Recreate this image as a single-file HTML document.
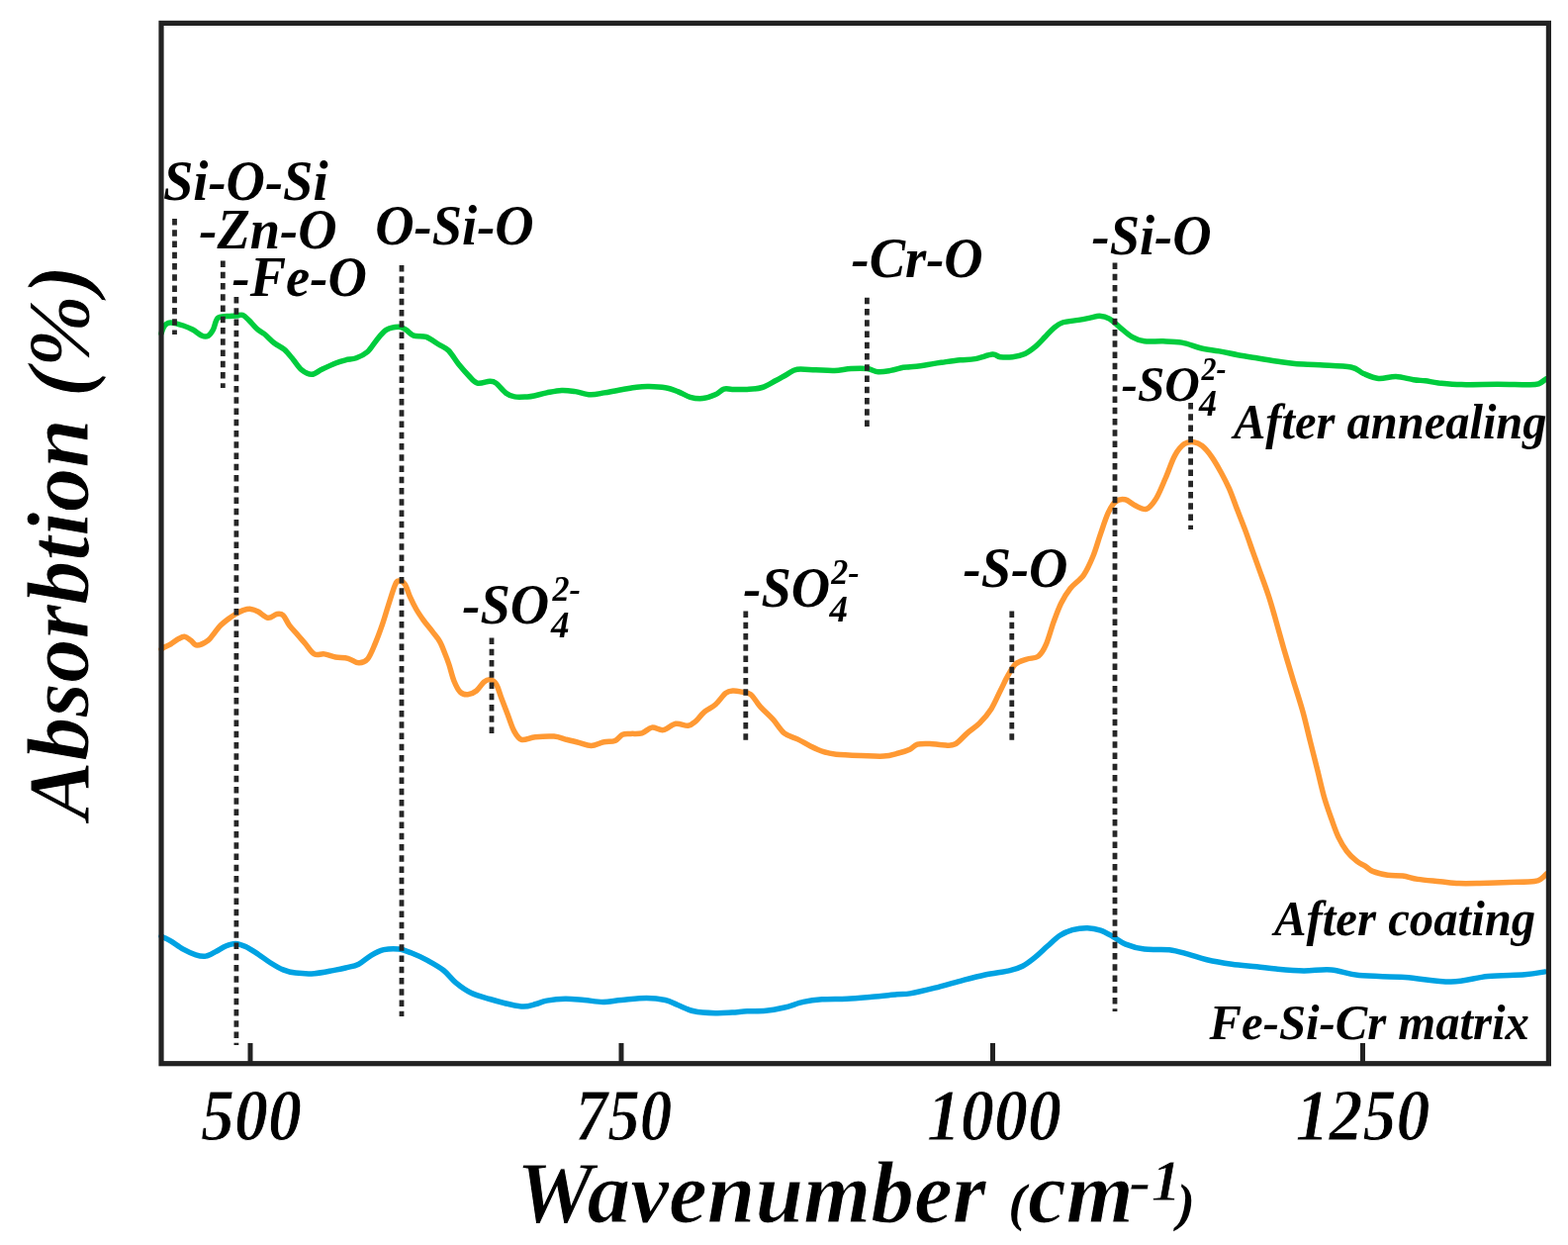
<!DOCTYPE html><html><head><meta charset="utf-8"><style>html,body{margin:0;padding:0;background:#fff;}svg{display:block;}</style></head><body>
<svg width="1585" height="1258" viewBox="0 0 1585 1258">
<rect width="1585" height="1258" fill="#fff"/>
<g fill="none" stroke-width="5.5" stroke-linejoin="round" stroke-linecap="round">
<path stroke="#00cc3d" d="M163.0,337.0 C163.3,336.1 164.2,333.1 165.0,331.5 C165.8,329.9 166.7,328.4 168.0,327.5 C169.3,326.6 169.7,325.8 172.6,326.0 C175.5,326.2 181.5,327.8 185.2,329.0 C188.9,330.2 191.5,331.3 194.7,333.0 C197.9,334.7 201.6,338.2 204.2,339.3 C206.8,340.4 208.6,340.4 210.5,339.3 C212.4,338.2 213.9,336.0 215.5,333.0 C217.1,330.0 217.7,323.7 220.0,321.5 C222.3,319.3 226.2,320.0 229.4,319.6 C232.6,319.2 236.3,319.2 238.9,319.0 C241.5,318.8 243.1,317.6 245.2,318.3 C247.3,319.1 249.0,321.1 251.5,323.5 C254.0,325.9 257.4,330.2 260.0,332.5 C262.6,334.8 264.4,335.1 267.3,337.5 C270.2,339.9 274.0,344.2 277.4,346.8 C280.8,349.4 284.2,350.4 287.4,353.1 C290.5,355.8 293.4,359.7 296.3,363.2 C299.2,366.7 302.0,371.4 305.1,373.9 C308.2,376.4 311.8,378.4 315.2,378.3 C318.6,378.2 321.3,375.2 325.3,373.3 C329.3,371.4 335.2,368.6 339.2,367.0 C343.2,365.4 345.8,364.7 349.3,363.8 C352.8,362.9 356.4,363.2 360.1,361.8 C363.8,360.4 368.1,358.4 371.5,355.5 C374.9,352.6 377.2,347.9 380.3,344.2 C383.4,340.5 386.6,335.7 390.4,333.4 C394.2,331.1 399.6,330.3 403.0,330.3 C406.4,330.3 408.1,331.9 410.6,333.4 C413.1,334.9 414.7,337.9 418.1,339.1 C421.5,340.3 426.6,338.9 430.8,340.4 C435.0,341.9 439.6,345.7 443.4,348.0 C447.2,350.3 450.1,350.9 453.5,354.3 C456.9,357.7 460.2,363.9 463.6,368.1 C467.0,372.3 470.6,376.3 473.7,379.5 C476.8,382.7 478.9,386.2 482.5,387.1 C486.1,388.1 492.0,385.2 495.1,385.2 C498.2,385.2 498.7,385.1 501.4,387.1 C504.1,389.1 508.4,394.9 511.5,397.2 C514.6,399.5 516.7,400.3 520.3,400.9 C523.9,401.5 529.7,401.0 533.0,400.9 C536.3,400.8 536.7,400.7 540.0,400.0 C543.3,399.3 548.0,397.8 552.6,396.9 C557.2,396.0 563.0,394.6 567.8,394.4 C572.6,394.2 576.8,394.9 581.6,395.6 C586.4,396.3 591.9,398.6 596.8,398.8 C601.6,399.0 605.5,397.8 610.7,396.9 C616.0,396.0 622.8,394.6 628.3,393.7 C633.8,392.8 638.9,391.7 643.5,391.2 C648.1,390.7 651.3,390.5 656.1,390.6 C660.9,390.7 667.7,391.0 672.5,391.8 C677.3,392.6 680.9,394.0 685.1,395.6 C689.3,397.2 693.5,400.1 697.7,401.3 C701.9,402.5 706.1,403.0 710.3,402.6 C714.5,402.2 719.4,400.4 723.0,398.8 C726.6,397.2 728.9,394.0 731.8,393.1 C734.6,392.2 736.2,393.3 740.1,393.4 C744.0,393.4 750.2,393.7 755.2,393.4 C760.2,393.1 765.5,393.0 770.4,391.5 C775.2,390.0 780.1,386.7 784.3,384.5 C788.5,382.3 792.0,380.1 795.6,378.2 C799.2,376.3 800.9,373.9 805.7,373.2 C810.5,372.5 818.3,373.6 824.6,373.8 C830.9,374.0 837.7,374.6 843.6,374.4 C849.5,374.2 854.5,372.9 860.0,372.6 C865.5,372.3 871.8,372.1 876.4,372.6 C881.0,373.1 883.7,375.4 887.7,375.7 C891.7,376.0 896.1,375.1 900.3,374.4 C904.5,373.7 909.7,371.9 913.0,371.3 C916.3,370.7 916.3,371.2 920.0,370.8 C923.7,370.4 929.9,369.6 935.1,368.9 C940.4,368.1 945.6,367.1 951.5,366.3 C957.4,365.5 964.8,364.4 970.5,363.8 C976.2,363.2 980.1,363.6 985.6,362.6 C991.1,361.7 999.1,358.4 1003.3,358.1 C1007.5,357.8 1007.5,360.3 1010.9,360.7 C1014.3,361.1 1019.3,361.2 1023.5,360.7 C1027.7,360.2 1032.3,359.2 1036.1,357.5 C1039.9,355.8 1042.8,353.4 1046.2,350.6 C1049.6,347.8 1053.2,343.7 1056.3,340.5 C1059.4,337.3 1062.2,334.0 1065.1,331.6 C1068.0,329.2 1069.7,327.4 1073.9,326.0 C1078.1,324.6 1085.5,324.2 1090.3,323.4 C1095.1,322.5 1099.5,321.6 1103.0,320.9 C1106.5,320.2 1108.5,319.1 1111.6,319.3 C1114.7,319.5 1118.2,320.3 1121.5,322.1 C1124.8,323.9 1127.7,327.2 1131.5,330.3 C1135.3,333.4 1140.0,338.0 1144.2,340.4 C1148.4,342.8 1151.5,344.1 1156.8,344.8 C1162.0,345.5 1169.4,344.6 1175.7,344.8 C1182.0,345.0 1188.3,345.0 1194.6,346.1 C1200.9,347.2 1207.3,350.2 1213.6,351.7 C1219.9,353.2 1226.2,353.7 1232.5,354.9 C1238.8,356.1 1245.1,357.5 1251.4,358.7 C1257.7,359.9 1263.9,360.8 1270.3,361.8 C1276.7,362.9 1283.6,364.1 1290.0,365.0 C1296.4,365.9 1301.5,366.9 1308.9,367.5 C1316.3,368.1 1324.7,368.2 1334.2,368.8 C1343.7,369.4 1358.4,369.6 1365.7,371.0 C1373.0,372.4 1373.7,375.6 1378.3,377.5 C1382.9,379.4 1388.0,381.9 1393.5,382.4 C1399.0,382.9 1405.2,380.3 1411.1,380.5 C1417.0,380.7 1423.8,383.0 1428.8,383.7 C1433.8,384.4 1436.6,384.3 1440.8,384.8 C1445.0,385.3 1447.9,386.3 1454.0,386.9 C1460.1,387.5 1467.3,388.4 1477.3,388.6 C1487.2,388.8 1502.4,388.3 1513.7,388.3 C1525.0,388.3 1538.0,388.9 1544.9,388.8 C1551.8,388.7 1552.3,388.8 1555.3,387.8 C1558.2,386.8 1561.4,383.8 1562.6,383.0"/>
<path stroke="#ff9933" d="M163.0,656.0 C163.3,655.8 163.4,655.4 165.0,654.5 C166.6,653.6 170.1,652.3 172.6,650.8 C175.1,649.3 177.9,647.0 180.2,645.7 C182.5,644.4 184.4,643.0 186.5,643.2 C188.6,643.4 190.7,645.5 192.8,647.0 C194.9,648.5 196.2,652.0 199.1,652.0 C202.0,652.0 207.6,649.1 210.5,647.0 C213.4,644.9 214.7,641.9 216.8,639.4 C218.9,636.9 220.8,634.1 223.1,631.8 C225.4,629.5 228.2,627.4 230.7,625.5 C233.2,623.6 235.7,622.0 238.2,620.5 C240.7,619.0 243.3,617.6 245.8,616.7 C248.3,615.9 250.9,615.2 253.4,615.4 C255.9,615.6 258.0,616.5 260.9,618.0 C263.8,619.5 267.8,623.9 271.0,624.3 C274.2,624.7 277.4,620.9 279.9,620.5 C282.4,620.1 284.1,619.8 286.2,621.7 C288.3,623.6 290.0,628.4 292.5,631.8 C295.0,635.2 298.6,638.7 301.3,641.9 C304.0,645.1 306.2,647.6 308.9,650.8 C311.6,654.0 314.5,659.2 317.7,660.9 C320.9,662.6 324.2,660.4 327.8,660.9 C331.4,661.4 335.2,663.3 339.2,664.0 C343.2,664.7 347.9,664.3 351.8,665.3 C355.7,666.3 359.3,669.7 362.6,669.8 C365.9,669.9 368.8,669.1 371.5,666.0 C374.2,662.9 376.5,656.8 379.0,650.9 C381.5,645.0 384.3,637.4 386.6,630.7 C388.9,624.0 390.8,617.0 392.9,610.5 C395.0,604.0 397.5,595.4 399.2,591.5 C400.9,587.6 401.3,587.3 403.0,587.1 C404.7,586.9 407.4,587.7 409.3,590.3 C411.2,592.9 412.5,598.7 414.4,602.9 C416.3,607.1 418.4,611.5 420.7,615.5 C423.0,619.5 425.5,623.1 428.2,626.9 C430.9,630.7 434.4,634.6 437.1,638.2 C439.8,641.8 442.5,644.5 444.6,648.3 C446.8,652.1 448.4,657.1 450.0,661.0 C451.6,664.9 452.4,667.0 453.9,671.5 C455.4,676.0 457.0,683.4 458.9,688.0 C460.8,692.6 462.9,697.0 465.2,699.3 C467.5,701.6 470.1,702.0 472.8,701.8 C475.5,701.6 478.9,700.1 481.6,698.0 C484.3,695.9 486.9,691.1 489.2,689.2 C491.5,687.3 493.4,686.3 495.5,686.7 C497.6,687.1 499.9,688.6 501.8,691.7 C503.7,694.9 505.0,700.6 506.9,705.6 C508.8,710.6 511.1,716.5 513.2,722.0 C515.3,727.5 517.2,734.2 519.5,738.4 C521.8,742.6 523.5,746.2 527.1,747.3 C530.7,748.3 535.5,745.2 541.0,744.7 C546.5,744.2 554.6,743.7 559.9,744.1 C565.1,744.5 568.3,746.2 572.5,747.3 C576.7,748.3 580.9,749.3 585.1,750.4 C589.3,751.5 593.5,753.7 597.7,753.6 C601.9,753.5 606.3,750.6 610.3,749.8 C614.3,748.9 618.5,749.8 621.7,748.5 C624.9,747.2 626.6,743.4 629.3,742.2 C631.9,741.0 634.3,741.6 637.6,741.4 C640.9,741.2 645.3,741.8 648.9,740.8 C652.5,739.8 655.4,735.6 659.0,735.1 C662.6,734.6 666.4,738.2 670.4,737.6 C674.4,737.0 678.8,732.0 683.0,731.3 C687.2,730.6 692.2,733.6 695.6,733.2 C699.0,732.8 700.5,731.1 703.2,728.8 C705.9,726.5 708.6,722.1 712.0,719.3 C715.4,716.4 719.8,714.9 723.4,711.7 C727.0,708.6 730.6,702.7 733.5,700.4 C736.4,698.1 738.3,698.1 741.0,697.9 C743.7,697.7 746.9,698.5 749.9,699.1 C752.9,699.7 755.6,699.1 758.7,701.6 C761.9,704.1 765.0,710.1 768.8,714.3 C772.6,718.5 777.4,722.5 781.4,726.9 C785.4,731.3 788.6,737.4 792.8,740.8 C797.0,744.2 802.3,744.9 806.7,747.1 C811.1,749.3 815.0,751.9 819.3,754.0 C823.6,756.1 828.3,758.3 832.6,759.7 C836.9,761.1 838.9,761.6 845.2,762.2 C851.5,762.8 862.5,763.2 870.5,763.5 C878.5,763.8 886.9,764.5 893.2,764.1 C899.5,763.7 903.9,762.1 908.3,761.0 C912.7,759.9 916.5,758.7 919.7,757.2 C922.9,755.7 923.9,753.1 927.3,752.1 C930.7,751.1 935.7,751.4 939.9,751.5 C944.1,751.6 948.3,752.6 952.5,752.7 C956.7,752.8 960.9,754.1 965.1,752.1 C969.3,750.1 973.5,744.4 977.7,740.8 C981.9,737.2 986.3,734.8 990.3,730.7 C994.3,726.7 998.4,722.0 1001.9,716.5 C1005.4,711.0 1008.5,703.2 1011.4,697.5 C1014.3,691.8 1016.5,686.7 1019.1,682.2 C1021.7,677.8 1023.5,673.5 1026.7,670.8 C1029.9,668.1 1034.4,667.3 1038.2,666.0 C1042.0,664.7 1046.4,665.5 1049.6,663.1 C1052.8,660.7 1054.7,657.4 1057.2,651.7 C1059.8,646.0 1062.4,635.8 1064.9,628.8 C1067.5,621.8 1069.7,615.4 1072.5,609.7 C1075.3,604.0 1078.2,599.3 1082.0,594.5 C1085.8,589.7 1091.6,586.5 1095.4,581.1 C1099.2,575.7 1102.0,569.0 1104.9,562.0 C1107.8,555.0 1110.0,546.4 1112.6,539.1 C1115.1,531.8 1117.7,523.6 1120.2,518.2 C1122.7,512.8 1124.9,508.9 1127.8,506.7 C1130.7,504.5 1134.2,504.2 1137.4,504.8 C1140.6,505.4 1143.5,508.9 1147.0,510.5 C1150.5,512.1 1155.1,515.5 1158.7,514.4 C1162.3,513.3 1165.3,509.1 1168.6,503.9 C1171.8,498.7 1175.0,490.3 1178.2,483.0 C1181.4,475.7 1184.5,465.8 1187.7,460.1 C1190.9,454.4 1194.0,450.8 1197.2,448.6 C1200.4,446.4 1203.8,446.4 1206.8,446.7 C1209.8,447.0 1212.4,448.2 1215.4,450.7 C1218.4,453.2 1221.8,457.3 1225.0,461.8 C1228.2,466.3 1231.6,472.4 1234.5,477.7 C1237.4,483.0 1239.8,487.5 1242.5,493.6 C1245.2,499.7 1247.8,507.4 1250.4,514.3 C1253.1,521.2 1255.8,527.8 1258.4,534.9 C1261.1,542.0 1263.7,549.8 1266.3,557.2 C1268.9,564.6 1271.6,572.0 1274.3,579.4 C1277.0,586.8 1279.8,594.4 1282.2,601.7 C1284.6,609.0 1286.0,614.0 1288.6,623.0 C1291.2,632.0 1294.6,644.7 1297.7,655.4 C1300.8,666.1 1304.0,676.4 1307.2,687.2 C1310.5,698.0 1314.4,709.8 1317.2,720.0 C1320.0,730.2 1321.9,739.1 1324.3,748.6 C1326.7,758.1 1329.1,767.7 1331.5,777.2 C1333.9,786.7 1336.2,797.4 1338.6,805.8 C1341.0,814.1 1343.4,820.6 1345.8,827.3 C1348.2,834.0 1350.3,840.4 1352.9,845.9 C1355.5,851.4 1358.4,856.2 1361.5,860.2 C1364.6,864.2 1368.4,867.7 1371.5,870.2 C1374.6,872.7 1377.3,873.4 1380.0,875.1 C1382.7,876.8 1383.8,878.9 1387.6,880.4 C1391.4,881.9 1397.7,883.4 1402.7,884.2 C1407.8,885.0 1412.9,884.3 1417.9,885.0 C1423.0,885.7 1426.7,887.4 1433.0,888.4 C1439.3,889.4 1448.8,890.0 1455.7,890.7 C1462.6,891.4 1467.9,892.3 1474.6,892.6 C1481.3,892.9 1487.1,892.7 1495.7,892.5 C1504.3,892.3 1516.8,891.8 1526.0,891.5 C1535.2,891.2 1545.8,891.2 1551.2,890.5 C1556.6,889.8 1556.5,888.8 1558.5,887.5 C1560.5,886.2 1562.5,883.8 1563.3,883.0"/>
<path stroke="#00a2e2" d="M163.0,946.0 C163.3,946.2 163.4,946.3 165.0,947.1 C166.6,947.9 169.2,948.9 172.6,950.9 C176.0,952.9 181.0,956.8 185.2,959.1 C189.4,961.4 194.1,963.6 197.9,964.8 C201.7,966.0 204.7,966.6 208.0,966.1 C211.3,965.6 214.7,963.3 218.0,961.6 C221.3,959.9 224.7,957.4 228.1,956.0 C231.5,954.6 234.8,953.3 238.2,953.4 C241.6,953.5 244.5,954.8 248.3,956.6 C252.1,958.4 256.8,961.5 261.0,964.2 C265.2,966.9 269.4,970.4 273.6,973.0 C277.8,975.6 282.0,978.2 286.2,979.9 C290.4,981.6 293.6,982.5 298.8,983.1 C304.1,983.7 311.4,984.1 317.7,983.7 C324.0,983.3 331.4,981.6 336.7,980.6 C342.0,979.6 345.0,979.1 349.3,978.0 C353.6,976.9 358.3,976.3 362.6,974.2 C366.9,972.1 371.0,967.7 375.2,965.3 C379.4,962.9 383.3,960.8 387.9,959.7 C392.5,958.7 398.4,958.5 403.0,959.0 C407.6,959.5 410.8,960.9 415.6,962.8 C420.4,964.7 426.5,967.4 432.0,970.4 C437.5,973.4 443.6,976.7 448.4,980.5 C453.2,984.3 456.4,989.3 461.0,993.1 C465.6,996.9 470.5,1000.5 476.2,1003.2 C481.9,1005.9 488.8,1007.6 495.1,1009.5 C501.4,1011.4 508.3,1013.2 514.0,1014.5 C519.7,1015.8 524.6,1017.1 529.2,1017.1 C533.8,1017.1 537.9,1015.5 541.8,1014.5 C545.7,1013.5 547.6,1012.0 552.6,1011.1 C557.6,1010.2 565.2,1009.3 571.5,1009.2 C577.8,1009.1 584.2,1010.0 590.5,1010.5 C596.8,1011.0 603.1,1012.4 609.4,1012.4 C615.7,1012.4 620.9,1011.1 628.3,1010.5 C635.7,1009.9 646.2,1008.6 653.6,1008.6 C661.0,1008.6 667.2,1009.4 672.5,1010.5 C677.8,1011.6 680.3,1013.6 685.1,1015.5 C689.9,1017.4 695.2,1020.4 701.5,1021.8 C707.8,1023.2 716.6,1023.5 723.0,1023.7 C729.4,1023.9 734.6,1023.4 740.0,1023.1 C745.4,1022.8 749.5,1022.1 755.2,1021.8 C760.9,1021.5 767.9,1021.8 774.2,1021.2 C780.5,1020.6 786.8,1019.5 793.1,1018.0 C799.4,1016.5 805.7,1013.8 812.0,1012.4 C818.3,1011.0 823.5,1010.3 830.9,1009.8 C838.3,1009.3 847.8,1009.6 856.2,1009.2 C864.6,1008.8 873.0,1008.0 881.4,1007.3 C889.8,1006.6 900.3,1005.4 906.7,1004.8 C913.1,1004.2 913.6,1005.0 920.0,1003.9 C926.4,1002.8 936.8,1000.3 945.2,998.2 C953.6,996.1 962.1,993.5 970.5,991.3 C978.9,989.1 987.3,986.8 995.7,985.0 C1004.1,983.2 1014.6,982.1 1020.9,980.6 C1027.2,979.1 1029.4,978.4 1033.6,976.2 C1037.8,974.0 1042.0,970.7 1046.2,967.3 C1050.4,963.9 1054.6,959.7 1058.8,956.0 C1063.0,952.3 1067.2,947.9 1071.4,945.2 C1075.6,942.5 1079.4,940.9 1084.0,939.6 C1088.6,938.4 1094.4,937.6 1099.2,937.7 C1104.0,937.8 1108.3,938.7 1112.6,940.2 C1116.9,941.7 1121.0,944.2 1125.2,946.5 C1129.4,948.8 1132.6,952.0 1137.9,954.1 C1143.2,956.2 1149.5,958.2 1156.8,959.1 C1164.1,960.0 1174.7,958.9 1182.0,959.7 C1189.3,960.6 1194.6,962.5 1200.9,964.2 C1207.2,965.9 1212.5,968.1 1219.9,969.8 C1227.3,971.5 1236.7,973.1 1245.1,974.3 C1253.5,975.5 1262.8,976.0 1270.3,976.8 C1277.8,977.6 1282.1,978.4 1290.0,979.1 C1297.9,979.8 1308.6,980.8 1317.9,980.9 C1327.2,981.0 1336.5,979.2 1345.8,980.0 C1355.1,980.8 1361.4,984.4 1373.8,985.6 C1386.2,986.9 1404.8,986.4 1420.3,987.5 C1435.8,988.6 1452.8,992.3 1466.8,992.1 C1480.8,991.9 1491.6,987.7 1504.0,986.5 C1516.4,985.3 1531.7,985.5 1541.3,984.7 C1550.9,983.9 1558.3,982.4 1561.7,981.9"/>
</g>
<g stroke="#262626" stroke-width="4.8" stroke-dasharray="6.5 4.75">
<line x1="176.5" y1="221" x2="176.5" y2="338"/>
<line x1="225.3" y1="263.6" x2="225.3" y2="392"/>
<line x1="238.9" y1="300" x2="238.9" y2="1056"/>
<line x1="406.0" y1="268" x2="406.0" y2="1027"/>
<line x1="876.4" y1="300.7" x2="876.4" y2="431"/>
<line x1="1127.0" y1="265.6" x2="1127.0" y2="1022"/>
<line x1="1203.6" y1="407" x2="1203.6" y2="535"/>
<line x1="497.0" y1="644.5" x2="497.0" y2="744"/>
<line x1="753.8" y1="617.4" x2="753.8" y2="749"/>
<line x1="1022.8" y1="617.6" x2="1022.8" y2="749"/>
</g>
<rect x="163" y="23.4" width="1402.4" height="1051.3" fill="none" stroke="#222" stroke-width="5.2"/>
<g stroke="#222" stroke-width="5">
<line x1="253" y1="1054" x2="253" y2="1074"/>
<line x1="628" y1="1054" x2="628" y2="1074"/>
<line x1="1003.5" y1="1054" x2="1003.5" y2="1074"/>
<line x1="1377.5" y1="1054" x2="1377.5" y2="1074"/>
</g>
<g font-family="Liberation Serif, Times New Roman, serif" font-weight="bold" font-style="italic" fill="#000">
<text transform="translate(165.0,202.2) scale(1.0,1.04)" font-size="54.5">Si-O-Si</text>
<text transform="translate(201.3,250.7) scale(1.0,1.04)" font-size="54.5">-Zn-O</text>
<text transform="translate(234.6,299.2) scale(1.0,1.04)" font-size="54.5">-Fe-O</text>
<text transform="translate(379.2,247.2) scale(1.0,1.04)" font-size="54.5">O-Si-O</text>
<text transform="translate(860.5,279.5) scale(1.0,1.04)" font-size="54.5">-Cr-O</text>
<text transform="translate(1103.5,256.5) scale(1.0,1.04)" font-size="54.5">-Si-O</text>
<text transform="translate(973.5,593.4) scale(1.0,1.04)" font-size="54.5">-S-O</text>
<text transform="translate(467.3,629.5) scale(1.0,1.04)" font-size="54.5">-SO</text>
<text transform="translate(558.4,606.5) scale(1.0,1.07)" font-size="34">2-</text>
<text transform="translate(556.9,643.6) scale(1.0,1.04)" font-size="37">4</text>
<text transform="translate(751.3,613.0) scale(1.0,1.04)" font-size="54.5">-SO</text>
<text transform="translate(840.2,590.0) scale(1.0,1.07)" font-size="34">2-</text>
<text transform="translate(838.6,628.0) scale(1.0,1.04)" font-size="37">4</text>
<text transform="translate(1133.5,405.4) scale(1.0,1.04)" font-size="49.2">-SO</text>
<text transform="translate(1214.6,384.2) scale(1.0,1.1)" font-size="30">2-</text>
<text transform="translate(1211.9,419.8) scale(1.0,1.04)" font-size="36">4</text>
<text transform="translate(1247.0,442.6) scale(1.0,1.04)" font-size="48.5">After annealing</text>
<text transform="translate(1288.0,944.7) scale(1.0,1.04)" font-size="48.8">After coating</text>
<text transform="translate(1222.6,1049.7) scale(1.0,1.04)" font-size="48.7">Fe-Si-Cr matrix</text>
<text transform="translate(203.0,1151.6) scale(1.0,1.09)" font-size="68" stroke="#fff" stroke-width="0.8">500</text>
<text transform="translate(581.5,1151.6) scale(0.96,1.09)" font-size="68" stroke="#fff" stroke-width="0.8">750</text>
<text transform="translate(937.0,1151.6) scale(1.0,1.09)" font-size="68" stroke="#fff" stroke-width="0.8">1000</text>
<text transform="translate(1309.6,1151.6) scale(1.0,1.09)" font-size="68" stroke="#fff" stroke-width="0.8">1250</text>
<text transform="translate(522.1,1235.3) scale(1.0,1.025)" font-size="87.5" stroke="#fff" stroke-width="1.0">Wavenumber</text>
<text x="1019.4" y="1233.4" font-size="53">(</text>
<text transform="translate(1038.9,1235.3) scale(1.0,1.025)" font-size="87.5" stroke="#fff" stroke-width="1.0">cm</text>
<text x="1190.0" y="1233.4" font-size="53">)</text>
<text transform="translate(1141.3,1212.7) scale(1.12,1.0)" font-size="60" stroke="#fff" stroke-width="0.8">-</text>
<text x="1163.7" y="1212.7" font-size="60" stroke="#fff" stroke-width="0.8">1</text>
<text transform="translate(89.2,828.3) rotate(-90)" font-size="88.85" stroke="#fff" stroke-width="1.0">Absorbtion (%)</text>
</g>
</svg></body></html>
